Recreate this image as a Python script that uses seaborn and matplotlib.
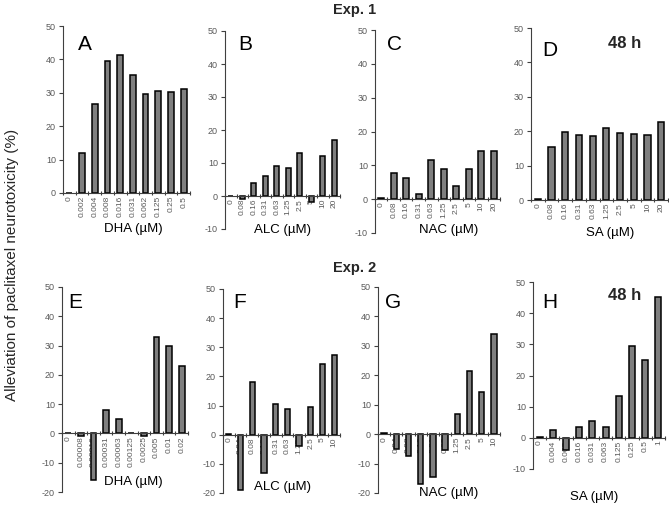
import numpy as np
import pandas as pd
import matplotlib
matplotlib.use("Agg")
import matplotlib.pyplot as plt
import seaborn as sns

# concentrations (x tick labels) for each panel
conc_a = ['0', '0.002', '0.004', '0.008', '0.016', '0.031', '0.062', '0.125', '0.25', '0.5']
conc_bcd = ['0', '0.08', '0.16', '0.31', '0.63', '1.25', '2.5', '5', '10', '20']
conc_e = ['0', '0.00008', '0.00016', '0.00031', '0.00063', '0.00125', '0.0025', '0.005', '0.01', '0.02']
conc_fg = ['0', '0.04', '0.08', '0.16', '0.31', '0.63', '1.25', '2.5', '5', '10']
conc_h = ['0', '0.004', '0.008', '0.016', '0.031', '0.063', '0.125', '0.25', '0.5', '1']

# alleviation values (%)
val_a = [0, 12.1, 26.5, 39.5, 41.3, 35.3, 29.7, 30.4, 30.1, 31.0]
val_b = [0, -0.8, 3.8, 6.0, 9.2, 8.6, 13.0, -1.8, 12.1, 17.0]
val_c = [0.2, 7.8, 6.2, 1.5, 11.5, 9.0, 3.9, 9.0, 14.3, 14.3]
val_d = [0.2, 15.5, 19.9, 19.0, 18.5, 20.8, 19.5, 19.3, 18.8, 22.8]
val_e = [0, -1.0, -16.0, 8.0, 5.0, 0, -1.0, 33.0, 30.0, 23.0]
val_f = [0.3, -19.0, 18.2, -13.0, 10.5, 8.7, -3.8, 9.4, 24.2, 27.4]
val_g = [0.5, -5.0, -7.3, -16.8, -14.5, -5.3, 6.9, 21.5, 14.2, 34.0]
val_h = [0.2, 2.5, -3.8, 3.4, 5.3, 3.6, 13.5, 29.5, 25.1, 45.2]

compounds = ['DHA', 'ALC', 'NAC', 'SA', 'DHA', 'ALC', 'NAC', 'SA']
letters = ['A', 'B', 'C', 'D', 'E', 'F', 'G', 'H']
ylims = [(0, 50), (-10, 50), (-10, 50), (0, 50), (-20, 50), (-20, 50), (-20, 50), (-10, 50)]

W, H = 669, 512


def px(x, y):
    # pixel position (from top-left) -> figure fraction
    return x / W, 1 - y / H


sns.set_theme(style="white")
plt.rcParams['font.family'] = ['Liberation Sans', 'DejaVu Sans']
plt.rcParams['axes.unicode_minus'] = False

fig = plt.figure(figsize=(W / 100, H / 100), dpi=100)

# axes boxes in pixels: left, right, top, bottom
boxes = [(63, 190, 26, 193), (225, 340, 31, 229), (375, 500, 30, 233), (531, 668, 28, 200),
         (62, 188, 287, 492), (223, 340, 289, 493), (378, 500, 287, 493), (533, 665, 282, 469)]
# x label centres and panel letter positions (pixels)
xlab_pos = [(133, 229), (283, 230), (449, 230), (610, 233),
            (133, 482), (282, 487), (449, 493), (594, 497)]
letter_pos = [(85, 45), (245, 45), (395, 45), (550, 50),
              (75, 302), (240, 302), (393, 302), (550, 302)]

concs = [conc_a, conc_bcd, conc_bcd, conc_bcd, conc_e, conc_fg, conc_fg, conc_h]
vals = [val_a, val_b, val_c, val_d, val_e, val_f, val_g, val_h]

grey_txt = '#595959'

for i in range(8):
    l, r, t, b = boxes[i]
    ax = fig.add_axes([l / W, 1 - b / H, (r - l) / W, (b - t) / H])
    df = pd.DataFrame({'conc': concs[i], 'val': vals[i]})
    sns.barplot(data=df, x='conc', y='val', order=concs[i], color='#7f7f7f',
                edgecolor='black', linewidth=1.1, width=0.45, saturation=1,
                errorbar=None, ax=ax)
    ax.set_ylim(*ylims[i])
    ax.set_xlim(-0.5, len(concs[i]) - 0.5)
    ax.set_yticks(np.arange(ylims[i][0], ylims[i][1] + 1, 10))
    ax.spines['top'].set_visible(False)
    ax.spines['right'].set_visible(False)
    ax.spines['bottom'].set_position(('data', 0))
    ax.spines['bottom'].set_color('#404040')
    ax.spines['left'].set_color('#404040')
    ax.spines['left'].set_linewidth(0.8)
    ax.spines['bottom'].set_linewidth(0.8)
    ax.set_xlabel('')
    ax.set_ylabel('')
    ax.tick_params(axis='y', labelsize=6.5, colors=grey_txt, length=3, width=0.8,
                   direction='out', left=True, pad=2)
    ax.tick_params(axis='y', which='major', color='#404040')
    ax.tick_params(axis='x', which='major', labelsize=6, colors=grey_txt,
                   length=0, rotation=90, pad=2)
    ax.set_xticks(np.arange(len(concs[i]) + 1) - 0.5, minor=True)
    ax.tick_params(axis='x', which='minor', length=3, width=0.8,
                   direction='inout', color='#404040', bottom=True)
    ax.patch.set_alpha(0)

    fig.text(*px(*xlab_pos[i]), compounds[i] + ' (µM)', ha='center', va='center',
             fontsize=9.5, color='black')
    fig.text(*px(*letter_pos[i]), letters[i], ha='center', va='center',
             fontsize=15, color='black')

fig.text(*px(625, 43), '48 h', ha='center', va='center', fontsize=12, fontweight='bold')
fig.text(*px(625, 295), '48 h', ha='center', va='center', fontsize=12, fontweight='bold')
fig.text(*px(355, 10), 'Exp. 1', ha='center', va='center', fontsize=10.5, fontweight='bold')
fig.text(*px(355, 268), 'Exp. 2', ha='center', va='center', fontsize=10.5, fontweight='bold')
fig.text(*px(12, 265), 'Alleviation of paclitaxel neurotoxicity (%)', ha='center', va='center',
         rotation=90, fontsize=11)

fig.savefig('out.png', dpi=100, facecolor='white')
